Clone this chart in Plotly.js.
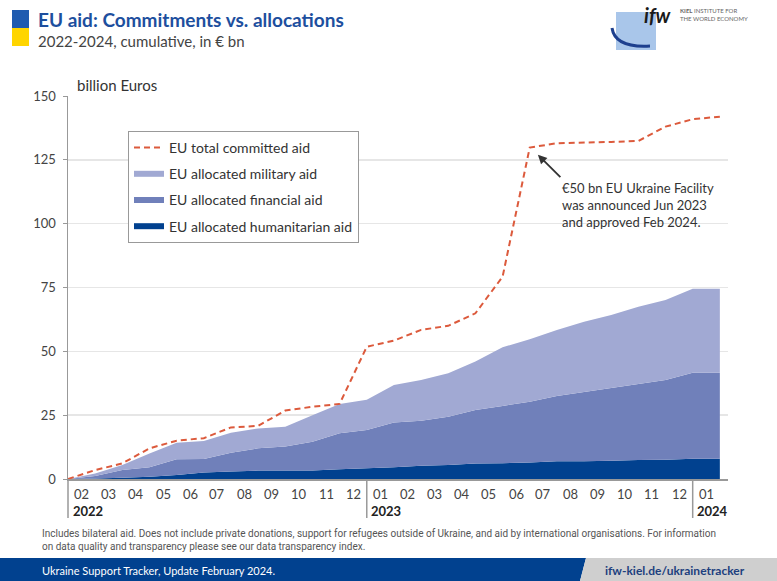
<!DOCTYPE html>
<html>
<head>
<meta charset="utf-8">
<script src="https://cdn.plot.ly/plotly-3.0.1.min.js"></script>
<style>body{margin:0;background:#fff}#plot{width:777px;height:581px}</style>
</head>
<body>
<div id="plot"></div>
<script>
// month labels, one per cell (Feb 2022 .. Jan 2024); points sit on cell boundaries
const monthLabels = ['02','03','04','05','06','07','08','09','10','11','12',
  '01','02','03','04','05','06','07','08','09','10','11','12','01'];
const years = [{label: '2022', start: 0}, {label: '2023', start: 11}, {label: '2024', start: 23}];

// cumulative values in bn EUR, point k = end of month cell k-1
const committed = [0, 3.5, 6.1, 12, 15, 16, 20.2, 20.8, 26.8, 28.3, 29.4, 51.8,
  54.2, 58.4, 60, 64.9, 79.2, 129.8, 131.5, 131.7, 132, 132.4, 138, 140.9, 141.9];
const humanitarian = [0, 0.2, 0.5, 0.9, 1.6, 2.5, 2.9, 3.3, 3.3, 3.3, 3.8, 4.2,
  4.6, 5.2, 5.5, 6.1, 6.2, 6.5, 7.0, 7.0, 7.1, 7.4, 7.5, 7.9, 7.9];
const financial = [0, 1.0, 3.0, 3.7, 6.1, 5.3, 7.4, 8.7, 9.4, 11.3, 14.1, 15.0,
  17.5, 17.6, 18.9, 20.9, 22.4, 23.8, 25.5, 27.1, 28.5, 29.8, 31.3, 33.7, 33.7];
const military = [0, 1.0, 2.0, 5.4, 6.5, 7.1, 7.8, 7.8, 7.8, 10.4, 11.5, 11.8,
  14.7, 16.0, 17.0, 19.0, 23.0, 24.4, 25.9, 27.5, 28.6, 30.3, 31.3, 32.9, 32.9];

const xs = committed.map((_, i) => i);

const traces = [
  {x: xs, y: humanitarian, name: 'EU allocated humanitarian aid', stackgroup: 'a', legendgroup: 'h', legendrank: 4,
   mode: 'none', fillcolor: '#01418f', line: {width: 0}},
  {x: xs, y: financial, name: 'EU allocated financial aid', stackgroup: 'a', legendgroup: 'f', legendrank: 3,
   mode: 'none', fillcolor: '#7080ba', line: {width: 0}},
  {x: xs, y: military, name: 'EU allocated military aid', stackgroup: 'a', legendgroup: 'm', legendrank: 2,
   mode: 'none', fillcolor: '#a1a9d3', line: {width: 0}},
  {x: xs, y: committed, name: 'EU total committed aid', mode: 'lines', legendgroup: 'c', legendrank: 1,
   line: {color: '#dc5a3c', width: 2, dash: '6px,4px'}}
];

// pixel -> paper helpers (plot area 68..728 x 96..479)
const px = p => (p - 68) / 660;
const py = p => (479 - p) / 383;

const font = 'Lato, "Open Sans", sans-serif';
function txt(x, y, text, size, color, anchor, extra) {
  return Object.assign({x: px(x), y: py(y), xref: 'paper', yref: 'paper', xanchor: anchor || 'left',
    yanchor: 'middle', showarrow: false, align: 'left', text: text,
    font: {size: size, color: color, family: font}}, extra || {});
}
const annotations = [];
monthLabels.forEach((m, i) => annotations.push({
  x: i + 0.5, y: py(494), xref: 'x', yref: 'paper', xanchor: 'center', yanchor: 'middle', text: m, showarrow: false,
  font: {size: 13, color: '#444', family: font}}));
years.forEach(y => annotations.push({
  x: y.start + 0.1, y: py(511), xref: 'x', yref: 'paper', yanchor: 'middle', text: '<b>' + y.label + '</b>',
  xanchor: 'left', showarrow: false, font: {size: 13, color: '#222', family: font}}));
annotations.push(
  {x: 17.3, y: 127, ax: 24, ay: 24, xref: 'x', yref: 'y',
   showarrow: true, arrowhead: 2, arrowsize: 1, arrowwidth: 1.8, arrowcolor: '#333', text: ''},
  txt(560, 205, '€50 bn EU Ukraine Facility<br>was announced Jun 2023<br>and approved Feb 2024.', 13, '#333'),
  txt(75, 85, 'billion Euros', 15, '#333'),
  txt(36, 20, '<b>EU aid: Commitments vs. allocations</b>', 19, '#1d4f9e'),
  txt(36, 41, '2022-2024, cumulative, in € bn', 15, '#444'),
  txt(642, 15, '<b><i>ifw</i></b>', 20, '#1a1a1a'),
  txt(678, 15, '<b>KIEL</b> INSTITUTE FOR<br>THE WORLD ECONOMY', 6, '#666'),
  txt(40, 540, 'Includes bilateral aid. Does not include private donations, support for refugees outside of Ukraine, and aid by international organisations. For information<br>on data quality and transparency please see our data transparency index.',
    10, '#555', 'left', {font: {size: 10, color: '#555', family: '"Liberation Sans Narrow", "Roboto", sans-serif'}}),
  txt(40, 570, 'Ukraine Support Tracker, Update February 2024.', 11, '#fff'),
  txt(747, 570, '<b>ifw-kiel.de/ukrainetracker</b>', 12, '#1d3f7e', 'right')
);

const shapes = [
  {type: 'rect', xref: 'paper', yref: 'paper', x0: px(12), x1: px(29), y0: py(28), y1: py(10), fillcolor: '#1f5bb0', line: {width: 0}},
  {type: 'rect', xref: 'paper', yref: 'paper', x0: px(12), x1: px(29), y0: py(46), y1: py(28), fillcolor: '#ffd500', line: {width: 0}},
  {type: 'path', xref: 'paper', yref: 'paper', line: {width: 0}, fillcolor: '#01418f',
   path: `M ${px(0)} ${py(558)} L ${px(586)} ${py(558)} L ${px(580)} ${py(581)} L ${px(0)} ${py(581)} Z`},
  {type: 'path', xref: 'paper', yref: 'paper', line: {width: 0}, fillcolor: '#cfcfcf',
   path: `M ${px(586)} ${py(558)} L ${px(777)} ${py(558)} L ${px(777)} ${py(581)} L ${px(580)} ${py(581)} Z`},
  {type: 'ellipse', xref: 'paper', yref: 'paper', x0: px(616), x1: px(656), y0: py(50), y1: py(12), fillcolor: '#a9c6ea', line: {width: 0}},
  {type: 'path', xref: 'paper', yref: 'paper', line: {color: '#1d3f8e', width: 3},
   path: `M ${px(612)} ${py(28)} Q ${px(615)} ${py(48)} ${px(650)} ${py(46)}`}
];
years.slice(1).forEach(y => shapes.push({type: 'line', xref: 'x', yref: 'paper', x0: y.start, x1: y.start,
  y0: 0, y1: py(518), line: {color: '#999', width: 1.5}}));
shapes.push({type: 'line', xref: 'paper', yref: 'paper', x0: 0, x1: 0, y0: 0, y1: py(518), line: {color: '#999', width: 1.5}});

const layout = {
  width: 777, height: 581,
  margin: {l: 68, r: 49, t: 96, b: 102},
  paper_bgcolor: '#fff', plot_bgcolor: '#fff',
  font: {family: font, color: '#444'},
  showlegend: true,
  legend: {x: px(128), y: py(131), xanchor: 'left', yanchor: 'top', traceorder: 'grouped',
    bgcolor: '#fff', bordercolor: '#999', borderwidth: 1, font: {size: 14, color: '#333', family: font},
    tracegroupgap: 5, itemwidth: 30},
  xaxis: {range: [0, 24.3], showticklabels: false, showgrid: false, zeroline: false,
    showline: true, linecolor: '#999', linewidth: 1.5, fixedrange: true},
  yaxis: {range: [0, 150], tickvals: [0, 25, 50, 75, 100, 125, 150], gridcolor: '#e6e6e6', gridwidth: 1.5,
    zeroline: false, showline: true, linecolor: '#999', linewidth: 1.5, ticks: 'outside', ticklen: 4, tickcolor: '#999',
    tickfont: {size: 13, color: '#444'}, ticklabelstandoff: 4},
  annotations: annotations,
  shapes: shapes
};

Plotly.newPlot('plot', traces, layout, {displayModeBar: false, staticPlot: true});
</script>
</body>
</html>
